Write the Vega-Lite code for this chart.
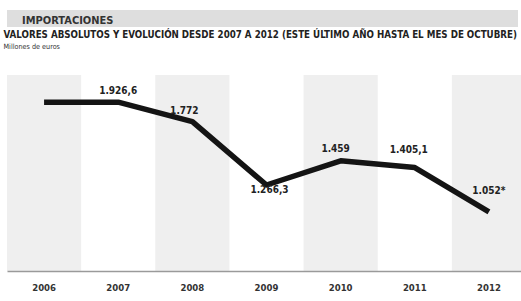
{
  "$schema": "https://vega.github.io/schema/vega-lite/v6.json",
  "width": 511,
  "height": 196,
  "autosize": {"type": "none"},
  "padding": {"left": 7, "top": 75, "right": 3, "bottom": 30},
  "background": "#ffffff",
  "config": {"view": {"stroke": null}},
  "title": {
    "text": "IMPORTACIONES",
    "anchor": "start",
    "frame": "group",
    "dx": 15,
    "dy": 20,
    "offset": 4,
    "font": "DejaVu Sans Condensed",
    "fontSize": 11,
    "fontWeight": "bold",
    "color": "#333333"
  },
  "data": {
    "values": [
      {"year": 2006, "value": 1926.6, "label": ""},
      {"year": 2007, "value": 1926.6, "label": "1.926,6"},
      {"year": 2008, "value": 1772, "label": "1.772"},
      {"year": 2009, "value": 1266.3, "label": "1.266,3"},
      {"year": 2010, "value": 1459, "label": "1.459"},
      {"year": 2011, "value": 1405.1, "label": "1.405,1"},
      {"year": 2012, "value": 1052, "label": "1.052*"}
    ]
  },
  "encoding": {
    "x": {
      "field": "year", "type": "ordinal",
      "scale": {"type": "band", "paddingInner": 0, "paddingOuter": 0, "range": [0, 519]},
      "axis": {
        "title": "VALORES ABSOLUTOS Y EVOLUCIÓN DESDE 2007 A 2012 (ESTE ÚLTIMO AÑO HASTA EL MES DE OCTUBRE)",
        "titleX": -4, "titleY": -234, "titleAlign": "left", "titleAnchor": "start", "titleBaseline": "alphabetic",
        "titleFont": "DejaVu Sans Condensed", "titleFontWeight": "bold", "titleFontSize": 9.7, "titleColor": "#222222",
        "ticks": false, "labelAngle": 0, "labelPadding": 11,
        "labelFont": "DejaVu Sans Condensed", "labelFontWeight": "bold", "labelFontSize": 9.5,
        "labelColor": "#333333", "domainColor": "#9a9a9a", "domainWidth": 1.5, "grid": false
      }
    }
  },
  "layer": [
    {
      "mark": {"type": "rect", "color": "#dedede"},
      "encoding": {
        "x": null,
        "y": {"datum": 2526, "type": "quantitative"},
        "y2": {"datum": 2661}
      }
    },
    {
      "transform": [{"filter": "datum.year % 2 == 0"}],
      "mark": {"type": "rect", "color": "#efefef"}
    },
    {
      "mark": {"type": "line", "color": "#141414", "strokeWidth": 5.5, "strokeJoin": "round", "strokeCap": "butt"},
      "encoding": {
        "y": {
          "field": "value", "type": "quantitative",
          "scale": {"domain": [581, 2143], "nice": false, "zero": false},
          "axis": {
            "title": "Millones de euros", "labels": false, "ticks": false, "domain": false, "grid": false,
            "titleAngle": 0, "titleAlign": "left", "titleBaseline": "alphabetic",
            "titleX": -4, "titleY": -27, "titleFont": "DejaVu Sans Condensed",
            "titleFontWeight": "normal", "titleFontSize": 7.2, "titleColor": "#333333"
          }
        }
      }
    },
    {
      "transform": [{"filter": "datum.year == 2007"}],
      "mark": {"type": "text", "font": "DejaVu Sans Condensed", "fontWeight": "bold", "fontSize": 10, "color": "#222222", "baseline": "alphabetic", "dy": -8},
      "encoding": {"y": {"field": "value", "type": "quantitative"}, "text": {"field": "label"}}
    },
    {
      "transform": [{"filter": "datum.year == 2008"}],
      "mark": {"type": "text", "font": "DejaVu Sans Condensed", "fontWeight": "bold", "fontSize": 10, "color": "#222222", "baseline": "alphabetic", "dx": -8, "dy": -8},
      "encoding": {"y": {"field": "value", "type": "quantitative"}, "text": {"field": "label"}}
    },
    {
      "transform": [{"filter": "datum.year == 2009"}],
      "mark": {"type": "text", "font": "DejaVu Sans Condensed", "fontWeight": "bold", "fontSize": 10, "color": "#222222", "baseline": "alphabetic", "dx": 3, "dy": 8},
      "encoding": {"y": {"field": "value", "type": "quantitative"}, "text": {"field": "label"}}
    },
    {
      "transform": [{"filter": "datum.year == 2010"}],
      "mark": {"type": "text", "font": "DejaVu Sans Condensed", "fontWeight": "bold", "fontSize": 10, "color": "#222222", "baseline": "alphabetic", "dx": -5, "dy": -9},
      "encoding": {"y": {"field": "value", "type": "quantitative"}, "text": {"field": "label"}}
    },
    {
      "transform": [{"filter": "datum.year == 2011"}],
      "mark": {"type": "text", "font": "DejaVu Sans Condensed", "fontWeight": "bold", "fontSize": 10, "color": "#222222", "baseline": "alphabetic", "dx": -6, "dy": -15},
      "encoding": {"y": {"field": "value", "type": "quantitative"}, "text": {"field": "label"}}
    },
    {
      "transform": [{"filter": "datum.year == 2012"}],
      "mark": {"type": "text", "font": "DejaVu Sans Condensed", "fontWeight": "bold", "fontSize": 10, "color": "#222222", "baseline": "alphabetic", "dy": -18},
      "encoding": {"y": {"field": "value", "type": "quantitative"}, "text": {"field": "label"}}
    }
  ]
}
